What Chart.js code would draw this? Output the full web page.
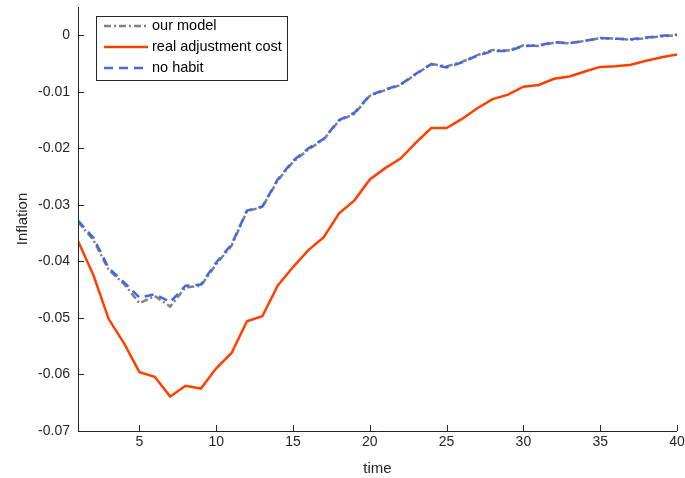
<!DOCTYPE html>
<html lang="en">
<head>
    <meta charset="UTF-8">
    <title>Inflation response</title>
    <script src="https://cdn.jsdelivr.net/npm/chart.js@4/dist/chart.umd.min.js"></script>
    <style>
        html, body { margin: 0; padding: 0; background: #fff; }
        #wrap { width: 685px; height: 478px; position: relative; }
    </style>
</head>
<body>
    <div id="wrap">
        <canvas id="inflationChart"></canvas>
    </div>

    <script>
        // data
        const periods = Array.from({ length: 40 }, (_, i) => i + 1);

        const ourModel = [
            -0.0330, -0.0362, -0.0415, -0.0440, -0.0474, -0.0461, -0.0480, -0.0446, -0.0443, -0.0405,
            -0.0372, -0.0311, -0.0304, -0.0257, -0.0224, -0.0202, -0.0184, -0.0151, -0.0139, -0.0107,
            -0.0097, -0.0088, -0.0069, -0.0051, -0.0055, -0.0047, -0.0035, -0.0026, -0.0027, -0.0018,
            -0.0019, -0.0013, -0.0014, -0.0010, -0.0005, -0.0006, -0.0008, -0.0005, -0.0002, 0.0000
        ];

        const realAdjCost = [
            -0.0364, -0.0424, -0.0502, -0.0545, -0.0596, -0.0604, -0.0639, -0.0620, -0.0625, -0.0589,
            -0.0562, -0.0506, -0.0497, -0.0443, -0.0410, -0.0380, -0.0357, -0.0315, -0.0292, -0.0255,
            -0.0235, -0.0218, -0.0190, -0.0164, -0.0164, -0.0148, -0.0129, -0.0113, -0.0105, -0.0091,
            -0.0088, -0.0077, -0.0073, -0.0064, -0.0056, -0.0055, -0.0052, -0.0045, -0.0039, -0.0034
        ];

        const noHabit = [
            -0.0328, -0.0358, -0.0412, -0.0437, -0.0464, -0.0458, -0.0472, -0.0443, -0.0441, -0.0402,
            -0.0370, -0.0310, -0.0303, -0.0255, -0.0222, -0.0200, -0.0183, -0.0150, -0.0137, -0.0106,
            -0.0096, -0.0087, -0.0068, -0.0051, -0.0057, -0.0048, -0.0036, -0.0028, -0.0028, -0.0019,
            -0.0018, -0.0012, -0.0014, -0.0010, -0.0005, -0.0006, -0.0007, -0.0004, -0.0001, 0.0001
        ];

        const xTicks = [5, 10, 15, 20, 25, 30, 35, 40];
        const yTicks = [-0.07, -0.06, -0.05, -0.04, -0.03, -0.02, -0.01, 0];

        const FONT = 'Liberation Sans, Arial, Helvetica, sans-serif';

        // MATLAB style: inward tick marks and a legend box inside the axes
        const matlabAxes = {
            id: 'matlabAxes',
            afterDraw(chart) {
                const { ctx, chartArea: a, scales: { x, y } } = chart;
                ctx.save();
                ctx.strokeStyle = '#262626';
                ctx.lineWidth = 1;
                ctx.beginPath();
                ctx.moveTo(a.left + 0.5, a.top);
                ctx.lineTo(a.left + 0.5, a.bottom + 0.5);
                ctx.lineTo(a.right, a.bottom + 0.5);
                xTicks.forEach(v => {
                    const px = Math.round(x.getPixelForValue(v)) + 0.5;
                    ctx.moveTo(px, a.bottom);
                    ctx.lineTo(px, a.bottom - 6);
                });
                yTicks.forEach(v => {
                    const py = Math.round(y.getPixelForValue(v)) + 0.5;
                    ctx.moveTo(a.left, py);
                    ctx.lineTo(a.left + 6, py);
                });
                ctx.stroke();

                // legend
                const bx = 96.5, by = 16.5, bw = 191, bh = 64;
                ctx.fillStyle = '#fff';
                ctx.fillRect(bx, by, bw, bh);
                ctx.strokeStyle = '#262626';
                ctx.strokeRect(bx, by, bw, bh);
                ctx.font = '14.5px ' + FONT;
                ctx.textBaseline = 'middle';
                chart.data.datasets.forEach((ds, i) => {
                    const ly = 26 + i * 21;
                    ctx.strokeStyle = ds.borderColor;
                    ctx.lineWidth = ds.borderWidth;
                    ctx.setLineDash(ds.borderDash || []);
                    ctx.beginPath();
                    ctx.moveTo(104, ly);
                    ctx.lineTo(148, ly);
                    ctx.stroke();
                    ctx.setLineDash([]);
                    ctx.fillStyle = '#000';
                    ctx.fillText(ds.label, 152, ly);
                });
                ctx.restore();
            }
        };

        new Chart(document.getElementById('inflationChart'), {
            type: 'line',
            data: {
                labels: periods,
                datasets: [
                    {
                        label: 'our model',
                        data: ourModel,
                        borderColor: '#808080',
                        borderWidth: 2.5,
                        borderDash: [7, 3, 2, 3],
                        order: 2
                    },
                    {
                        label: 'real adjustment cost',
                        data: realAdjCost,
                        borderColor: '#FF4000',
                        borderWidth: 2.5,
                        order: 1
                    },
                    {
                        label: 'no habit',
                        data: noHabit,
                        borderColor: '#4169E1',
                        borderWidth: 2.5,
                        borderDash: [9, 6],
                        order: 0
                    }
                ]
            },
            options: {
                responsive: true,
                maintainAspectRatio: false,
                animation: false,
                layout: { padding: { left: 0, top: 7, right: 8, bottom: 0 } },
                elements: { point: { radius: 0 }, line: { tension: 0 } },
                plugins: {
                    legend: { display: false },
                    tooltip: { enabled: false }
                },
                scales: {
                    x: {
                        type: 'linear',
                        min: 1,
                        max: 40,
                        afterBuildTicks: s => { s.ticks = xTicks.map(v => ({ value: v })); },
                        afterFit: s => { s.height = 47; s.paddingLeft = 0; s.paddingRight = 0; },
                        grid: { display: false, drawTicks: false },
                        border: { display: false },
                        ticks: { color: '#262626', font: { family: FONT, size: 14 }, padding: 3, maxRotation: 0 },
                        title: { display: true, text: 'time', color: '#262626', font: { family: FONT, size: 15 }, padding: { top: 4, bottom: 0 } }
                    },
                    y: {
                        min: -0.07,
                        max: 0.005,
                        afterBuildTicks: s => { s.ticks = yTicks.map(v => ({ value: v })); },
                        afterFit: s => { s.width = 78; s.paddingTop = 0; s.paddingBottom = 0; },
                        grid: { display: false, drawTicks: false },
                        border: { display: false },
                        ticks: {
                            color: '#262626',
                            font: { family: FONT, size: 14 },
                            padding: 8,
                            callback: v => (Math.abs(v) < 1e-9 ? '0' : String(+v.toFixed(2)))
                        },
                        title: { display: true, text: 'Inflation', color: '#262626', font: { family: FONT, size: 15 }, padding: { top: 14, bottom: 0 } }
                    }
                }
            },
            plugins: [matlabAxes]
        });
    </script>
</body>
</html>
